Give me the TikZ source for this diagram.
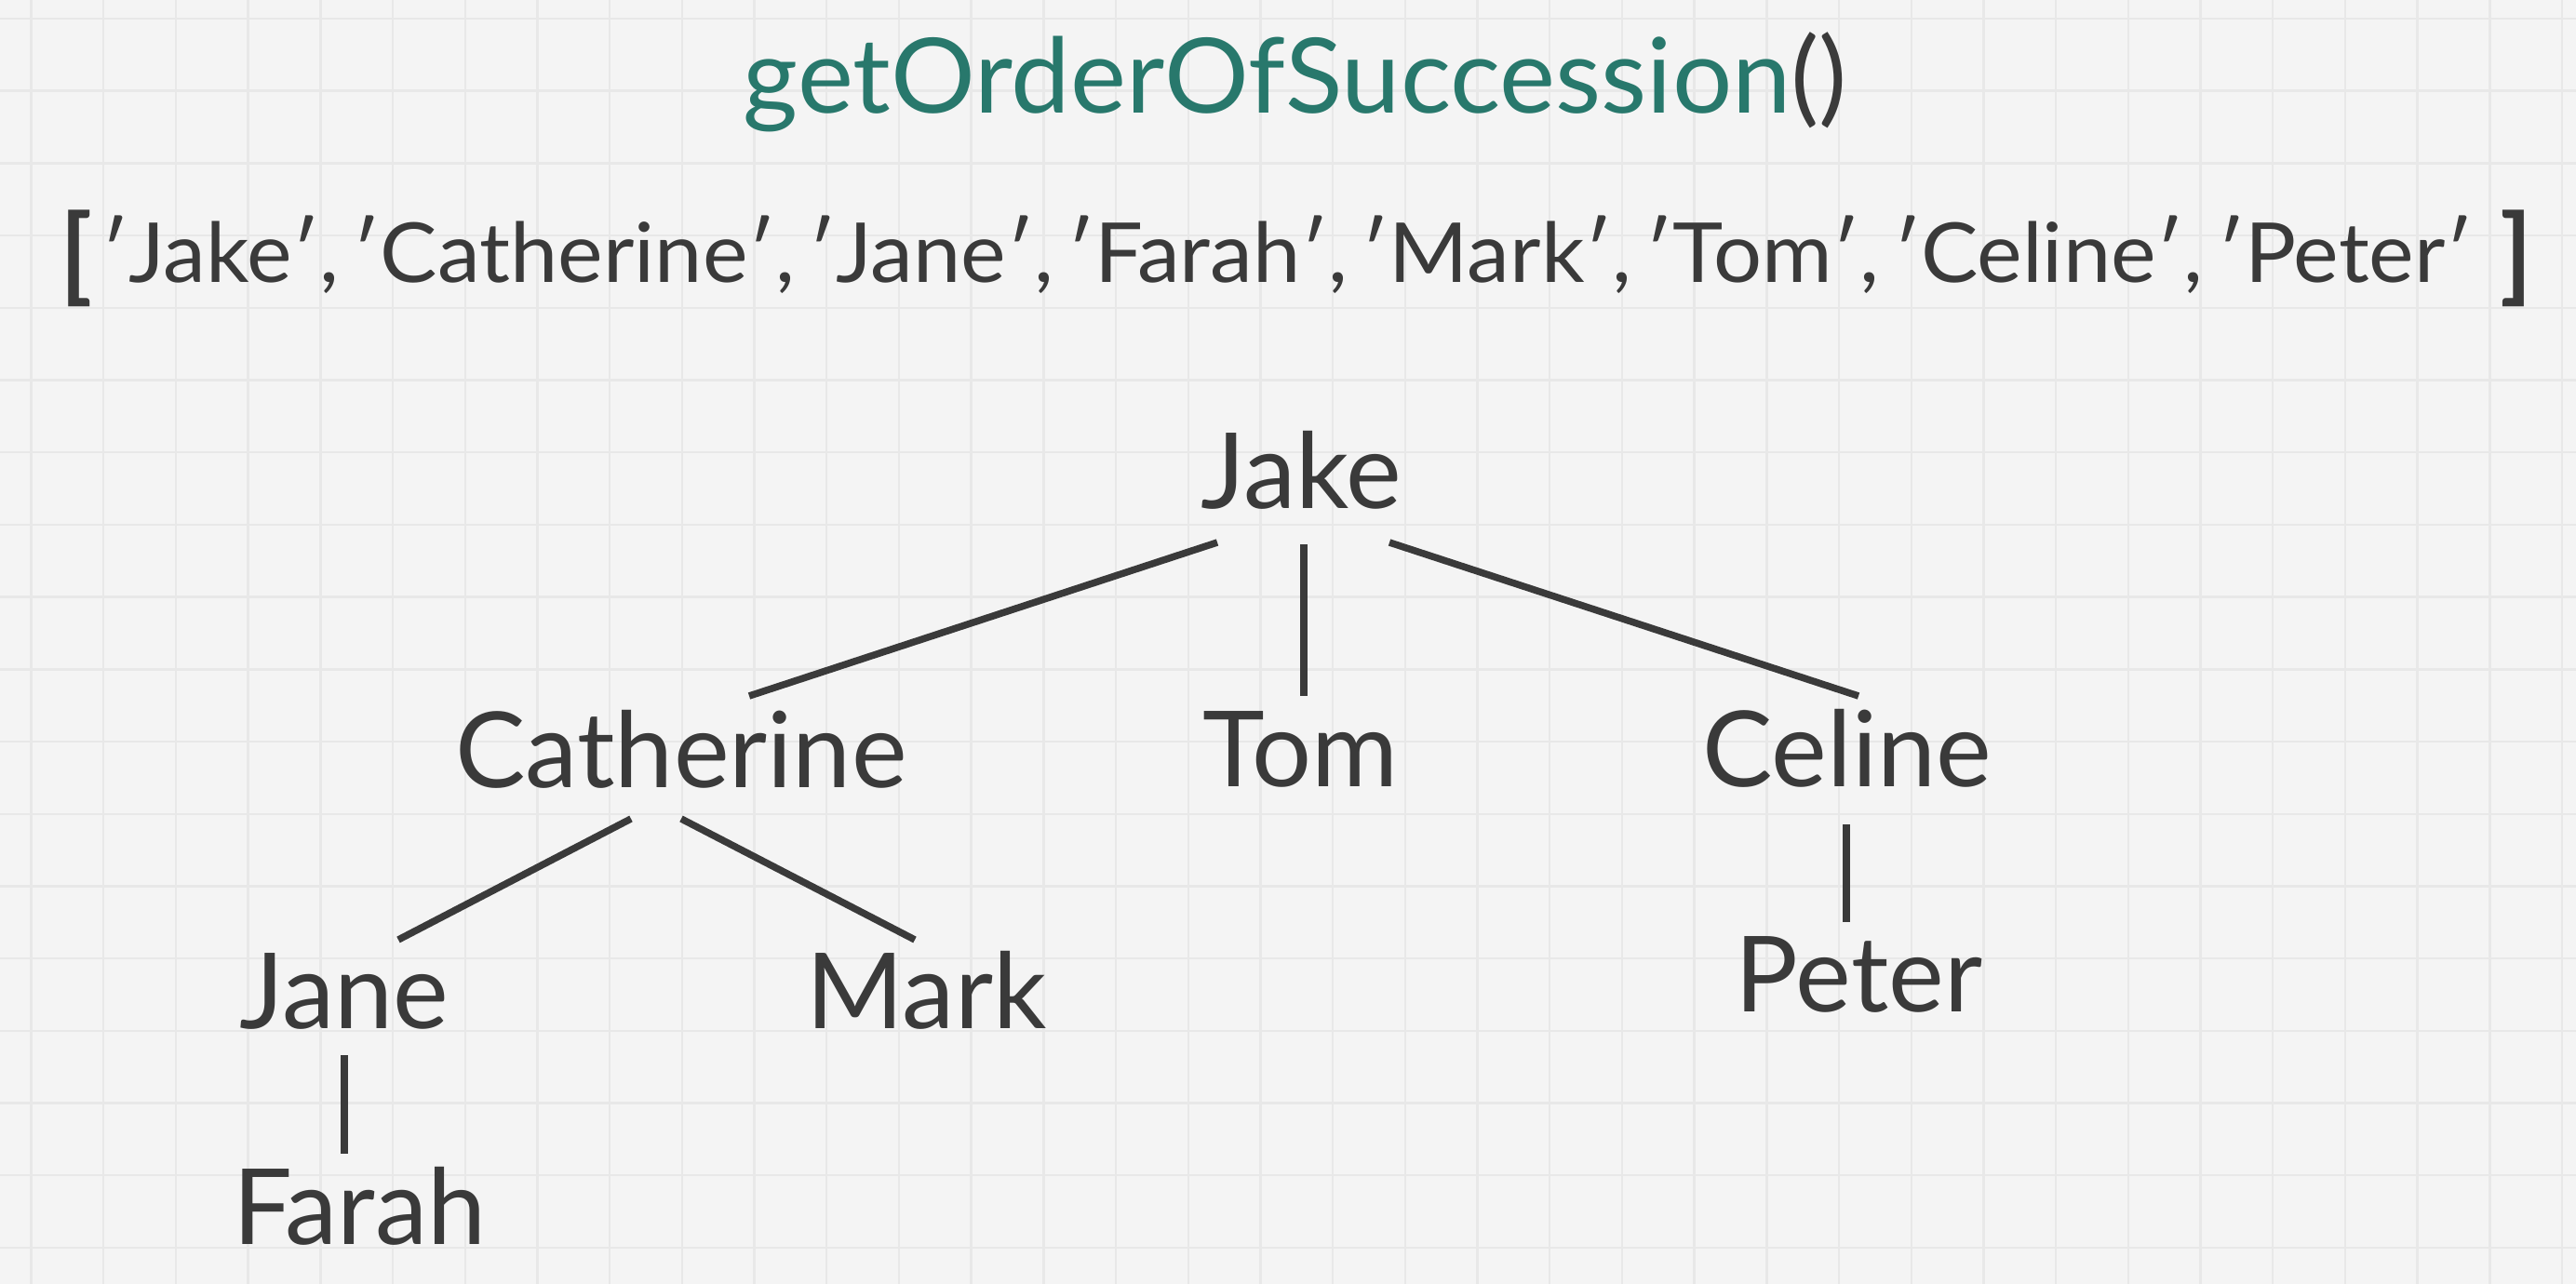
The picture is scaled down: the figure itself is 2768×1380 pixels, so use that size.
\documentclass[tikz,border=0pt]{standalone}
\usepackage{graphicx}
\usepackage{fontspec}
\setmainfont{Lato}
\definecolor{bgc}{HTML}{F4F4F4}
\definecolor{gridc}{HTML}{E8E8E8}
\definecolor{ink}{HTML}{3A3A3A}
\definecolor{tealc}{HTML}{28786C}
\newcommand\oq{\kern-0.1em′}
\newcommand\cq{′}
\tikzset{
  person/.style={inner sep=0pt, anchor=base, text=ink, font=\fontsize{113}{130}\selectfont},
  edge/.style={draw=ink, line width=7.5pt, line cap=butt},
  gridline/.style={draw=gridc, line width=2.4pt},
  bracket/.style={inner sep=0pt, anchor=center, text=ink, font=\fontsize{112}{130}\selectfont\bfseries},
}
\begin{document}
\begin{tikzpicture}[x=1pt, y=-1pt]
\fill[bgc] (0,0) rectangle (2768,1380);
\useasboundingbox (0,0) rectangle (2768,1380);
\foreach \i in {0,...,35} \draw[gridline] ({33.5+\i*77.7},0) -- ({33.5+\i*77.7},1380);
\foreach \j in {0,...,17} \draw[gridline] (0,{20+\j*77.7}) -- (2768,{20+\j*77.7});

\node[inner sep=0pt, anchor=base, font=\fontsize{112}{130}\selectfont] (title) at (1392,122)
  {\resizebox{1186pt}{\height}{\textcolor{tealc}{getOrderOfSuccession}\textcolor{ink}{()}}};

\node[inner sep=0pt, anchor=base, text=ink, font=\fontsize{89}{100}\selectfont] (list) at (1387.5,304)
  {\resizebox{2540pt}{\height}{\oq Jake\cq, \oq Catherine\cq, \oq Jane\cq, \oq Farah\cq, \oq Mark\cq, \oq Tom\cq, \oq Celine\cq, \oq Peter\cq}};
\node[bracket] (lb) at (82.5,278) {[};
\node[bracket] (rb) at (2704,278) {]};

\node[person] (jake)  at (1398.5,546) {Jake};
\node[person] (cath)  at (732,846)    {Catherine};
\node[person] (tom)   at (1397,845)   {Tom};
\node[person] (celine) at (1984.5,845) {Celine};
\node[person] (jane)  at (370,1105)   {Jane};
\node[person] (mark)  at (995.5,1105) {Mark};
\node[person] (peter) at (1997.5,1087) {Peter};
\node[person] (farah) at (386.5,1337) {Farah};

\draw[edge] ([shift={(-90.5,37)}]jake.base) -- ([shift={(73,-98)}]cath.base);
\draw[edge] ([shift={(2.5,39)}]jake.base) -- ([shift={(4,-97)}]tom.base);
\draw[edge] ([shift={(94.5,37)}]jake.base) -- ([shift={(12.5,-97)}]celine.base);
\draw[edge] ([shift={(-54,34)}]cath.base) -- ([shift={(58,-95)}]jane.base);
\draw[edge] ([shift={(0,34)}]cath.base) -- ([shift={(-12.5,-95)}]mark.base);
\draw[edge] ([shift={(-0.5,41)}]celine.base) -- ([shift={(-13.5,-96)}]peter.base);
\draw[edge] ([shift={(0,29)}]jane.base) -- ([shift={(-16.5,-97)}]farah.base);
\end{tikzpicture}
\end{document}
